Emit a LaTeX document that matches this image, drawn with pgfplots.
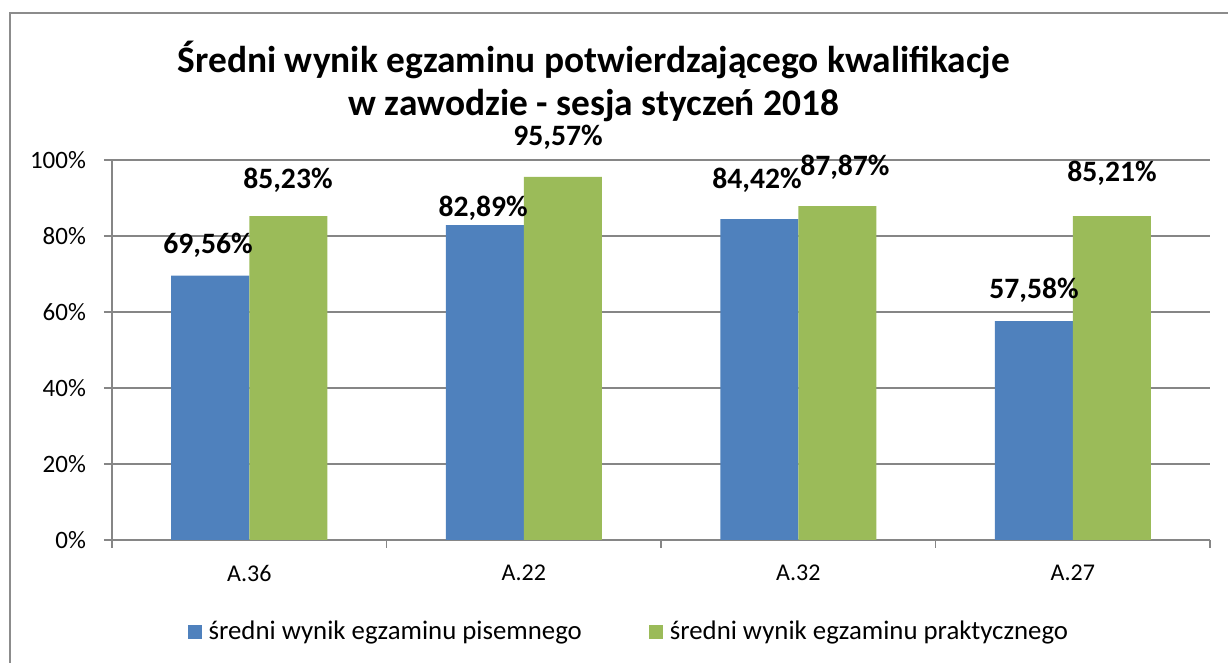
\documentclass[border=0pt]{standalone}
\usepackage{pgfplots}
\pgfplotsset{compat=1.18}
\usepackage{fontspec}
\setmainfont{Carlito}
\definecolor{cblue}{HTML}{4F81BD}
\definecolor{cgreen}{HTML}{9BBB59}
\definecolor{cgrid}{HTML}{868686}
\definecolor{cframe}{HTML}{8C8C8C}
\begin{document}
\begin{tikzpicture}[x=1pt,y=1pt]
\useasboundingbox (0,0) rectangle (614,331.5);
\draw[cframe,line width=1pt] (5,-10) rectangle (630,325);
\node[font=\fontsize{18.7}{21.5}\selectfont\bfseries,align=center] at (297,291) {Średni wynik egzaminu potwierdzającego kwalifikacje\\w zawodzie - sesja styczeń 2018};
\begin{axis}[
  at={(56pt,61.5pt)}, anchor=south west,
  scale only axis, width=549pt, height=190pt,
  xmin=-0.5, xmax=3.5, ymin=0, ymax=100,
  ybar=0pt, bar width=39pt,
  clip=false,
  axis x line*=bottom, axis y line*=left,
  axis line style={cgrid, line width=0.8pt},
  ymajorgrids, grid style={cgrid, line width=0.8pt},
  tick align=outside, major tick length=4pt,
  tick style={cgrid, line width=0.8pt},
  ytick={0,20,40,60,80,100},
  yticklabels={0\%,20\%,40\%,60\%,80\%,100\%},
  xtick={-0.5,0.5,1.5,2.5,3.5}, xticklabels={},
  extra x ticks={0,1,2,3},
  extra x tick labels={A.36,A.22,A.32,A.27},
  extra x tick style={major tick length=0pt, xticklabel style={yshift=-9pt}},
  xticklabel style={font=\fontsize{12}{14}\selectfont},
  yticklabel style={font=\fontsize{12.5}{14}\selectfont, xshift=-5.5pt},
  /pgf/number format/assume math mode=true,
  legend style={draw=none, fill=none, at={(0.473,-0.242)}, anchor=center,
    legend columns=2, font=\fontsize{13.4}{15}\selectfont,
    /tikz/every even column/.append style={column sep=30pt},
    nodes={inner sep=3.5pt},
    legend cell align=left},
  legend image code/.code={\fill[#1,draw=none] (0pt,-3.5pt) rectangle (7pt,3.5pt);},
]
\addplot[fill=cblue, draw=none] coordinates {(0,69.56) (1,82.89) (2,84.42) (3,57.58)};
\addplot[fill=cgreen, draw=none] coordinates {(0,85.23) (1,95.57) (2,87.87) (3,85.21)};
\legend{średni wynik egzaminu pisemnego, średni wynik egzaminu praktycznego}
\begin{scope}[every node/.style={font=\fontsize{14.8}{17}\selectfont\bfseries}]
\node at (axis cs:-0.150,77.6) {69,56\%};
\node at (axis cs:0.141,94.7) {85,23\%};
\node at (axis cs:0.852,87.4) {82,89\%};
\node at (axis cs:1.125,106.1) {95,57\%};
\node at (axis cs:1.850,94.7) {84,42\%};
\node at (axis cs:2.170,98.2) {87,87\%};
\node at (axis cs:2.859,65.8) {57,58\%};
\node at (axis cs:3.143,96.6) {85,21\%};
\end{scope}
\end{axis}
\end{tikzpicture}
\end{document}
